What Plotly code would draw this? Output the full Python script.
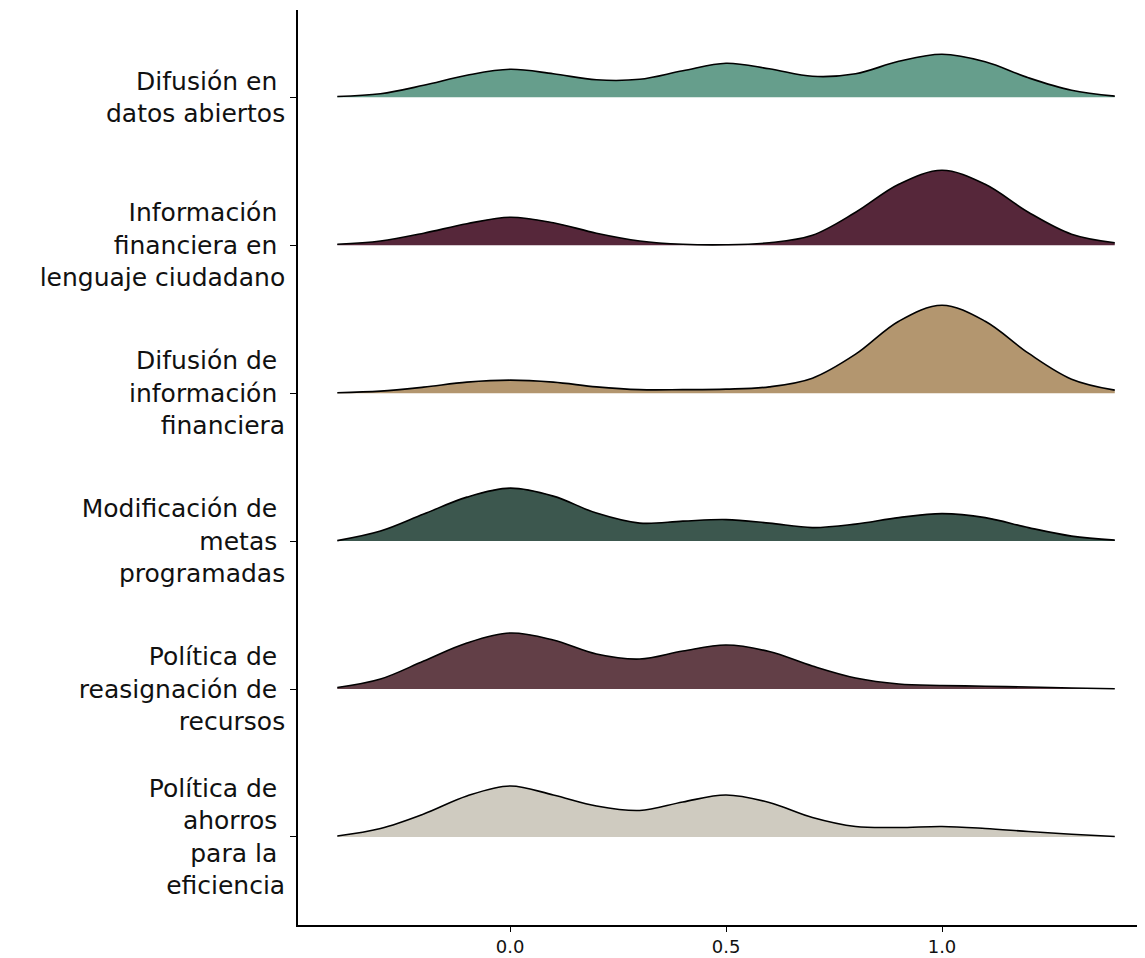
import plotly.graph_objects as go

x_grid = [-0.4, -0.3, -0.2, -0.1, 0.0, 0.1, 0.2, 0.3, 0.4, 0.5, 0.6, 0.7, 0.8, 0.9, 1.0, 1.1, 1.2, 1.3, 1.4]

# Categories from top to bottom
categories = [
    "Difusión en\u00a0<br>datos abiertos",
    "Información\u00a0<br>financiera en\u00a0<br>lenguaje ciudadano",
    "Difusión de\u00a0<br>información\u00a0<br>financiera",
    "Modificación de\u00a0<br>metas\u00a0<br>programadas",
    "Política de\u00a0<br>reasignación de\u00a0<br>recursos",
    "Política de\u00a0<br>ahorros\u00a0<br>para la\u00a0<br>eficiencia",
]

# Ridge heights (density, arbitrary units) for each category, top to bottom
dens_datos_abiertos = [0.8, 3.5, 12, 22, 28, 23.5, 17.5, 18, 26.5, 34, 28.5, 21, 23.5, 36, 43, 35.5, 19.5, 7, 1.2]
dens_lenguaje_ciudadano = [0.9, 4.2, 12, 21.5, 28, 22.5, 12, 4.3, 1, 0.5, 2.5, 10, 33, 61, 75, 61, 33, 11, 2.5]
dens_info_financiera = [0.4, 2, 6, 11, 13, 11, 6.3, 3.5, 3.5, 4, 6.3, 15, 39, 72, 88, 72, 40, 14, 3]
dens_metas = [0.5, 10, 27, 44, 53, 45, 28, 18, 20, 21.5, 18, 13.5, 17, 23.5, 27.5, 23.5, 13.5, 5, 1]
dens_reasignacion = [1.5, 10, 28, 46, 56, 49, 35, 30, 38, 44, 37.5, 23, 11, 5, 3.6, 2.8, 2, 1, 0.3]
dens_ahorros = [1, 8.5, 23, 41, 51, 42, 31, 26.5, 35, 42, 34.5, 19.5, 10.5, 9.5, 10.5, 8.5, 5.5, 2.8, 0.5]

densities = [dens_datos_abiertos, dens_lenguaje_ciudadano, dens_info_financiera,
             dens_metas, dens_reasignacion, dens_ahorros]

colors = ["#669e8c", "#56273a", "#b3966f", "#3c574e", "#623f47", "#cfcbc0"]

SCALE = 148.0  # density units per row spacing

n = len(categories)
fig = go.Figure()
for i, (cat, dens, col) in enumerate(zip(categories, densities, colors)):
    base = n - 1 - i
    fig.add_trace(go.Scatter(
        x=x_grid, y=[base] * len(x_grid), mode="lines",
        line=dict(width=0, color=col), hoverinfo="skip", showlegend=False))
    fig.add_trace(go.Scatter(
        x=x_grid, y=[base + d / SCALE for d in dens], mode="lines",
        line=dict(color="black", width=1.6, shape="spline", smoothing=1.0),
        fill="tonexty", fillcolor=col, name=cat.replace("<br>", " "),
        showlegend=False))

# The page body adds an 8px offset; size the figure to fill the rest of the window
fig.update_layout(
    width=1137, height=950,
    margin=dict(l=290, r=0, t=2, b=33),
    paper_bgcolor="white", plot_bgcolor="white",
    xaxis=dict(
        range=[-0.491, 1.47], tickvals=[0.0, 0.5, 1.0], ticktext=["0.0", "0.5", "1.0"],
        showgrid=False, zeroline=False, showline=True, linecolor="black", linewidth=1.6,
        ticks="outside", ticklen=5, tickcolor="black", tickwidth=1.2, automargin=False,
        tickfont=dict(family="DejaVu Sans", size=18, color="#111111"),
    ),
    yaxis=dict(
        range=[-0.595, 5.59],
        tickvals=[n - 1 - i for i in range(n)], ticktext=categories,
        showgrid=False, zeroline=False, showline=True, linecolor="black", linewidth=1.6,
        ticks="outside", ticklen=6, tickcolor="black", tickwidth=1.2, automargin=False,
        tickfont=dict(family="DejaVu Sans", size=25, color="#111111"),
    ),
)

fig.write_html("out.html")
